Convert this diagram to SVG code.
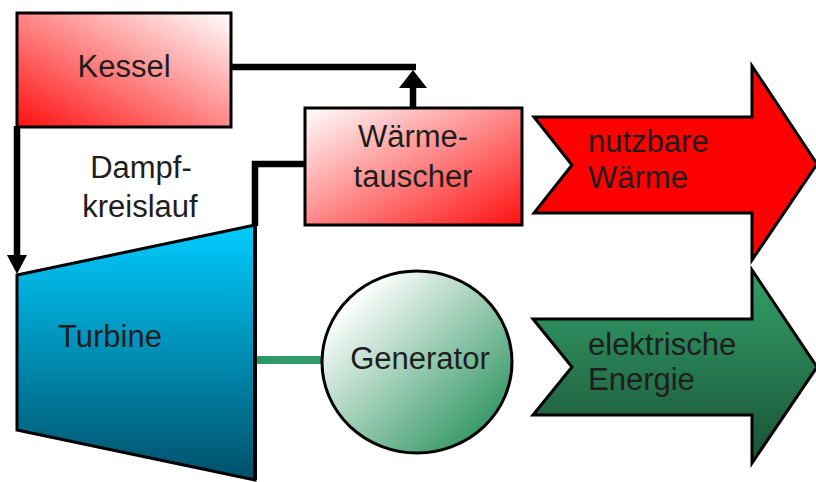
<svg xmlns="http://www.w3.org/2000/svg" width="816" height="482" viewBox="0 0 816 482">
  <defs>
    <linearGradient id="gKessel" x1="0" y1="1" x2="1" y2="0">
      <stop offset="0" stop-color="#ff1010"/>
      <stop offset="1" stop-color="#ffffff"/>
    </linearGradient>
    <linearGradient id="gTauscher" x1="0" y1="0" x2="1" y2="1">
      <stop offset="0" stop-color="#ffffff"/>
      <stop offset="1" stop-color="#ff1010"/>
    </linearGradient>
    <linearGradient id="gTurbine" x1="0" y1="0" x2="0" y2="1">
      <stop offset="0" stop-color="#00ccff"/>
      <stop offset="1" stop-color="#00506a"/>
    </linearGradient>
    <linearGradient id="gGenerator" x1="0.15" y1="0.15" x2="0.85" y2="0.85">
      <stop offset="0" stop-color="#ffffff"/>
      <stop offset="1" stop-color="#3a9a6a"/>
    </linearGradient>
    <linearGradient id="gElektro" x1="0" y1="0" x2="0" y2="1">
      <stop offset="0" stop-color="#33a06a"/>
      <stop offset="1" stop-color="#1a5236"/>
    </linearGradient>
  </defs>
  <style>
    .box { stroke: #000; stroke-width: 3; }
    .lbl { font-family: "Liberation Sans", Arial, sans-serif; font-size: 31px; fill: #1e1e1e; }
    .mid { text-anchor: middle; }
    .pipe { fill: none; stroke: #000; stroke-width: 6.5; }
    .head { fill: #000; }
    .shaft { fill: none; stroke: #2e9a66; stroke-width: 8; }
  </style>

  <!-- connectors -->
  <g id="connectors">
    <!-- steam from boiler to heat exchanger junction -->
    <path class="pipe" d="M231,67 H416"/>
    <path class="pipe" d="M413,108 V84"/>
    <polygon class="head" points="399,88 427,88 413,70"/>
    <!-- boiler down to turbine inlet -->
    <path class="pipe" d="M17,126 V258"/>
    <polygon class="head" points="7,255 27,255 17,274"/>
    <!-- turbine outlet to heat exchanger -->
    <path class="pipe" d="M305,164 H255 V226"/>
    <!-- shaft turbine to generator -->
    <path class="shaft" d="M255,360 H322"/>
  </g>

  <g id="kessel">
    <rect class="box" x="17" y="13" width="214" height="114" fill="url(#gKessel)"/>
    <text class="lbl mid" x="124" y="77">Kessel</text>
  </g>

  <g id="dampfkreislauf">
    <text class="lbl mid" x="141" y="178">Dampf-</text>
    <text class="lbl mid" x="140" y="217">kreislauf</text>
  </g>

  <g id="waermetauscher">
    <rect class="box" x="305" y="108" width="217" height="117" fill="url(#gTauscher)"/>
    <text class="lbl mid" x="413" y="147">Wärme-</text>
    <text class="lbl mid" x="413" y="187">tauscher</text>
  </g>

  <g id="turbine">
    <polygon class="box" points="17,275 255,225 255,480 17,430" fill="url(#gTurbine)"/>
    <path d="M255,225 V480" stroke="#000" stroke-width="4"/>
    <text class="lbl" x="58" y="347">Turbine</text>
  </g>

  <g id="generator">
    <ellipse class="box" cx="417" cy="362" rx="95" ry="91" stroke-width="2.5" fill="url(#gGenerator)"/>
    <text class="lbl mid" x="420" y="369">Generator</text>
  </g>

  <g id="nutzbare-waerme">
    <polygon class="box" points="534,117 752,117 752,66 817,164 752,260 752,213 534,213 572,165" fill="#ff0000"/>
    <text class="lbl" x="588" y="152">nutzbare</text>
    <text class="lbl" x="588" y="188">Wärme</text>
  </g>

  <g id="elektrische-energie">
    <polygon class="box" points="533,319 752,319 752,270 817,367 752,463 752,415 533,415 572,367" fill="url(#gElektro)"/>
    <text class="lbl" x="588" y="355">elektrische</text>
    <text class="lbl" x="588" y="390">Energie</text>
  </g>
</svg>
